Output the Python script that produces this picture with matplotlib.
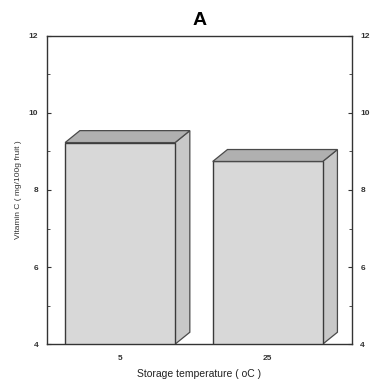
import numpy as np
import matplotlib.pyplot as plt
from matplotlib.patches import Polygon
from matplotlib.ticker import MultipleLocator

temps = ["5", "25"]
vitamin_c = [9.23, 8.74]

plt.rcParams['font.family'] = ['Liberation Sans', 'DejaVu Sans']

fig = plt.figure(figsize=(3.83, 3.85), dpi=100)
ax = fig.add_axes([0.122, 0.106, 0.797, 0.801])

x = np.arange(len(temps))
width = 0.745
dx, dy = 0.10, 0.31  # 3d depth offset in data units
base = 4

bars = ax.bar(x, np.array(vitamin_c) - base, bottom=base, width=width,
              color="#d8d8d8", edgecolor="#3a3a3a", linewidth=1.0, zorder=3)

for b in bars:
    x0 = b.get_x()
    x1 = x0 + b.get_width()
    top = b.get_y() + b.get_height()
    # top face
    ax.add_patch(Polygon([(x0, top), (x0 + dx, top + dy), (x1 + dx, top + dy), (x1, top)],
                         closed=True, facecolor="#b0b0b0", edgecolor="#4a4a4a",
                         linewidth=0.9, zorder=4))
    # side face
    ax.add_patch(Polygon([(x1, base), (x1, top), (x1 + dx, top + dy), (x1 + dx, base + dy)],
                         closed=True, facecolor="#c8c8c8", edgecolor="#4a4a4a",
                         linewidth=0.9, zorder=2))

ax.set_xlim(-0.497, 1.571)
ax.set_ylim(4, 12)
ax.set_xticks(x)
ax.set_xticklabels(temps, fontsize=6, fontweight="bold", color="#333333")
ax.yaxis.set_major_locator(MultipleLocator(2))
ax.yaxis.set_minor_locator(MultipleLocator(1))
ax.tick_params(axis="y", which="both", direction="in", left=True, right=True,
               labelleft=True, labelright=True, labelsize=6, colors="#333333",
               length=3, pad=6)
ax.tick_params(axis="y", which="minor", length=2)
ax.tick_params(axis="x", direction="in", length=2, labelsize=6, pad=8)
for lbl in ax.get_yticklabels():
    lbl.set_fontweight("bold")

for s in ax.spines.values():
    s.set_color("#333333")
    s.set_linewidth(1.0)

ax.set_ylabel("Vitamin C ( mg/100g fruit )", fontsize=6, color="#333333", labelpad=5)
ax.set_xlabel("Storage temperature ( oC )", fontsize=7.5, color="#222222", labelpad=5)
ax.set_title("A", fontsize=14, fontweight="bold", pad=8)

fig.savefig("out.png", dpi=100)
